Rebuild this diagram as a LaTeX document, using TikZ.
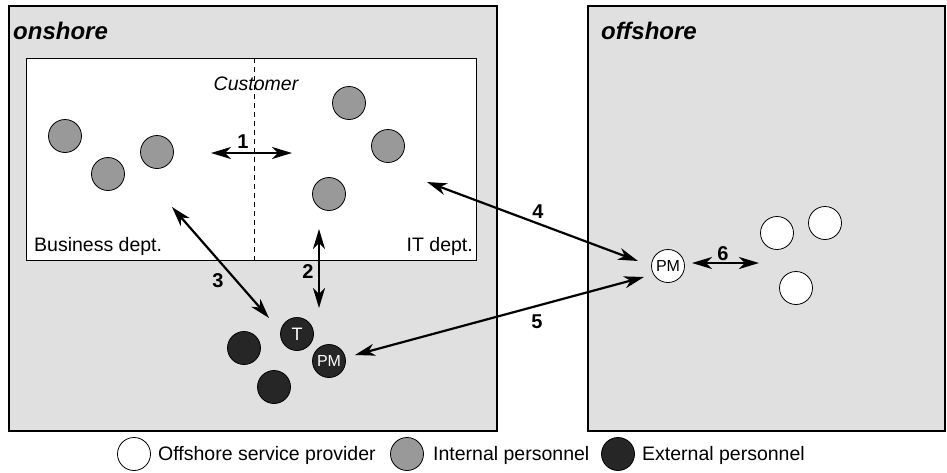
\documentclass[tikz,border=0pt]{standalone}
\usepackage{fontspec}
\setmainfont{Liberation Sans}
\usetikzlibrary{arrows.meta}
\definecolor{boxgray}{HTML}{E0E0E0}
\definecolor{intgray}{HTML}{999999}
\definecolor{extblack}{HTML}{262626}
\begin{document}
\begin{tikzpicture}[x=1pt,y=-1pt,
  region/.style={draw=black, line width=2pt, fill=boxgray, rectangle, anchor=north west, inner sep=0pt},
  custbox/.style={draw=black, line width=1pt, fill=white, rectangle, anchor=north west, inner sep=0pt},
  person/.style={circle, draw=black, line width=0.8pt, minimum size=33pt, inner sep=0pt},
  internal/.style={person, fill=intgray},
  external/.style={person, fill=extblack, text=white, font=\fontsize{16}{16}\selectfont},
  provider/.style={person, fill=white, font=\fontsize{16}{16}\selectfont},
  link/.style={line width=2.2pt, {Stealth[length=20pt,width=12pt,inset=6pt]}-{Stealth[length=20pt,width=12pt,inset=6pt]}},
  num/.style={font=\fontsize{20}{20}\selectfont\bfseries, inner sep=0pt},
  txt/.style={font=\fontsize{19.5}{21}\selectfont, inner sep=0pt},
  title/.style={font=\fontsize{24}{24}\selectfont\bfseries\itshape, inner sep=0pt, anchor=west},
]
\useasboundingbox (0,0) rectangle (947,472);
\fill[white] (0,0) rectangle (947,472);

% regions
\node[region, minimum width=488pt, minimum height=425pt] (onshore) at (8,5) {};
\node[region, minimum width=357pt, minimum height=425pt] (offshore) at (587,5) {};
\node[title] (onlabel) at (13,31) {onshore};
\node[title] (offlabel) at (601,31) {offshore};

% customer box
\node[custbox, minimum width=450pt, minimum height=202pt] (customer) at (26,58) {};
\coordinate (dtop) at (254,58);
\coordinate (dbot) at (254,260);
\draw[line width=0.8pt, dash pattern=on 5pt off 4pt] (dtop) -- (dbot);
\node[txt, font=\fontsize{19.5}{21}\selectfont\itshape] (custlabel) at (256,84) {Customer};
\node[txt, anchor=west] (buslabel) at (34,246) {Business dept.};
\node[txt, anchor=east] (itlabel) at (473,246) {IT dept.};

% internal personnel
\node[internal] (b1) at (65,136) {};
\node[internal] (b2) at (108,174) {};
\node[internal] (b3) at (157,152) {};
\node[internal] (i1) at (349,103) {};
\node[internal] (i2) at (388,146) {};
\node[internal] (i3) at (329,194) {};

% external personnel
\node[external] (e1) at (244,348) {};
\node[external, font=\fontsize{18}{18}\selectfont] (et) at (297,334) {T};
\node[external] (epm) at (329,361) {PM};
\node[external] (e2) at (274,387) {};

% offshore provider
\node[provider] (opm) at (668,266) {PM};
\node[provider] (o1) at (777,233) {};
\node[provider] (o2) at (825,223) {};
\node[provider] (o3) at (796,288) {};

% connector end points
\coordinate (a1l) at (211,153);
\coordinate (a1r) at (292,153);
\coordinate (a2t) at (319,229);
\coordinate (a2b) at (319,308);
\coordinate (a3t) at (172,207);
\coordinate (a3b) at (269,318);
\coordinate (a4l) at (427,182);
\coordinate (a4r) at (638,261);
\coordinate (a5l) at (355,355);
\coordinate (a5r) at (644,277);
\coordinate (a6l) at (692,263);
\coordinate (a6r) at (759,263);

\draw[link] (a1l) -- (a1r);
\draw[link] (a2t) -- (a2b);
\draw[link] (a3t) -- (a3b);
\draw[link] (a4l) -- (a4r);
\draw[link] (a5l) -- (a5r);
\draw[link] (a6l) -- (a6r);

\node[num] (n1) at (243,142) {1};
\node[num] (n2) at (308,272) {2};
\node[num] (n3) at (218,281) {3};
\node[num] (n4) at (538,212) {4};
\node[num] (n5) at (537,322) {5};
\node[num] (n6) at (723,254) {6};

% legend
\node[provider] (lw) at (134,454) {};
\node[txt, anchor=west] (lwt) at (158,455) {Offshore service provider};
\node[internal] (lg) at (407,454) {};
\node[txt, anchor=west] (lgt) at (433,455) {Internal personnel};
\node[external] (lb) at (618,454) {};
\node[txt, anchor=west] (lbt) at (642,455) {External personnel};
\end{tikzpicture}
\end{document}
